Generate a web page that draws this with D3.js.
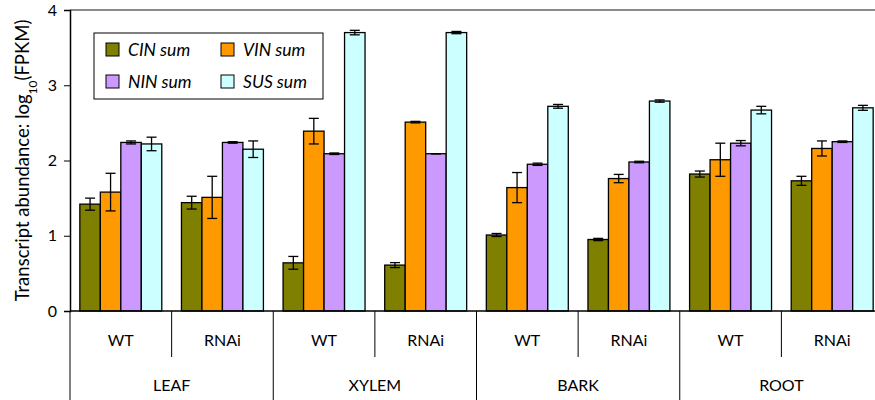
<!DOCTYPE html>
<meta charset="utf-8">
<style>
body { margin: 0; background: #fff; }
text { font-family: Lato, "Open Sans", sans-serif; fill: #000; }
.bar { stroke: #000; stroke-width: 1.3px; }
.err { stroke: #000; stroke-width: 1.3px; }
</style>
<svg width="875" height="400"></svg>
<script src="https://d3js.org/d3.v7.min.js"></script>
<script>
// tissues and genotypes along the x axis
var tissues = ["LEAF", "XYLEM", "BARK", "ROOT"];
var genotypes = ["WT", "RNAi"];
var series = ["CIN sum", "VIN sum", "NIN sum", "SUS sum"];
var colors = ["#808000", "#ff9900", "#cc99ff", "#ccffff"];
var yTicks = [0, 1, 2, 3, 4];

// log10(FPKM), one row per tissue/genotype, columns CIN, VIN, NIN, SUS
var values = [
    [1.42, 1.58, 2.24, 2.22],
    [1.44, 1.51, 2.24, 2.15],
    [0.64, 2.39, 2.09, 3.70],
    [0.61, 2.51, 2.09, 3.70],
    [1.01, 1.64, 1.95, 2.72],
    [0.95, 1.76, 1.98, 2.79],
    [1.82, 2.01, 2.23, 2.67],
    [1.73, 2.16, 2.25, 2.70]
];
var errors = [
    [0.08, 0.25, 0.02, 0.09],
    [0.085, 0.28, 0.01, 0.11],
    [0.085, 0.17, 0.01, 0.03],
    [0.033, 0.01, 0.0, 0.015],
    [0.02, 0.2, 0.015, 0.025],
    [0.015, 0.055, 0.01, 0.015],
    [0.04, 0.22, 0.035, 0.05],
    [0.06, 0.1, 0.01, 0.033]
];

var svg = d3.select("svg");
var plotL = 70, plotR = 883, plotT = 10, plotB = 311;

var groups = [];
tissues.forEach(function(t) {
    genotypes.forEach(function(g) { groups.push(t + "|" + g); });
});

var x0 = d3.scaleBand().domain(groups).range([plotL, plotR]);
var x1 = d3.scaleBand().domain(series).range([0, x0.bandwidth()]).paddingOuter(0.48);
var y = d3.scaleLinear().domain([0, 4]).range([plotB, plotT]);

// top frame
svg.append("line")
    .attr("x1", plotL).attr("x2", plotR)
    .attr("y1", y(4)).attr("y2", y(4))
    .attr("stroke", "#666").attr("stroke-width", 1.5);

// y axis
var yAxis = svg.append("g")
    .attr("transform", "translate(" + plotL + ",0)")
    .call(d3.axisLeft(y).tickValues(yTicks).tickFormat(d3.format("d")).tickSize(6).tickPadding(7));
yAxis.select(".domain").attr("stroke-width", 1.5);
yAxis.selectAll("text").style("font-size", "16px").style("font-family", "Lato, sans-serif");

svg.append("text")
    .attr("transform", "translate(29," + ((plotT + plotB) / 2) + ") rotate(-90)")
    .attr("text-anchor", "middle")
    .style("font-size", "18.5px")
    .call(function(t) {
        t.append("tspan").text("Transcript abundance: log");
        t.append("tspan").attr("baseline-shift", "sub").style("font-size", "12px").text("10");
        t.append("tspan").text("(FPKM)");
    });

// bars
var row = svg.selectAll(".grp")
    .data(values)
    .enter().append("g")
    .attr("class", "grp")
    .attr("transform", function(d, i) { return "translate(" + x0(groups[i]) + ",0)"; });

row.selectAll("rect")
    .data(function(d, i) { return d.map(function(v, j) { return {v: v, e: errors[i][j], s: series[j], c: colors[j]}; }); })
    .enter().append("rect")
    .attr("class", "bar")
    .attr("x", function(d) { return x1(d.s); })
    .attr("width", x1.bandwidth())
    .attr("y", function(d) { return y(d.v); })
    .attr("height", function(d) { return y(0) - y(d.v); })
    .attr("fill", function(d) { return d.c; });

var err = row.selectAll(".eb")
    .data(function(d, i) { return d.map(function(v, j) { return {v: v, e: errors[i][j], s: series[j]}; }); })
    .enter().append("g")
    .attr("class", "eb")
    .attr("transform", function(d) { return "translate(" + (x1(d.s) + x1.bandwidth() / 2) + ",0)"; });
err.append("line").attr("class", "err")
    .attr("y1", function(d) { return y(d.v - d.e); })
    .attr("y2", function(d) { return y(d.v + d.e); });
err.selectAll(".cap")
    .data(function(d) { return [d.v - d.e, d.v + d.e]; })
    .enter().append("line").attr("class", "err")
    .attr("x1", -5).attr("x2", 5)
    .attr("y1", function(d) { return y(d); })
    .attr("y2", function(d) { return y(d); });

// x axis baseline
svg.append("line")
    .attr("x1", plotL).attr("x2", plotR)
    .attr("y1", plotB).attr("y2", plotB)
    .attr("stroke", "#000").attr("stroke-width", 1.5);

// separators and labels
groups.forEach(function(g, i) {
    var gx = x0(g);
    svg.append("line")
        .attr("x1", gx).attr("x2", gx)
        .attr("y1", plotB).attr("y2", i % 2 === 0 ? 400 : 357)
        .attr("stroke", "#000").attr("stroke-width", 1);
    svg.append("text")
        .attr("x", gx + x0.bandwidth() / 2)
        .attr("y", 346)
        .attr("text-anchor", "middle")
        .style("font-size", "16px")
        .text(g.split("|")[1]);
});
tissues.forEach(function(t, i) {
    var gx = x0(t + "|" + genotypes[0]);
    svg.append("text")
        .attr("x", gx + x0.bandwidth())
        .attr("y", 391)
        .attr("text-anchor", "middle")
        .style("font-size", "16px")
        .text(t);
});

// legend
var legend = svg.append("g").attr("transform", "translate(94,33)");
legend.append("rect")
    .attr("width", 229).attr("height", 66)
    .attr("fill", "#fff").attr("stroke", "#000").attr("stroke-width", 1);
series.forEach(function(s, i) {
    var lx = 12 + (i % 2) * 115, ly = 17 + Math.floor(i / 2) * 32;
    legend.append("rect")
        .attr("x", lx).attr("y", ly - 7)
        .attr("width", 13).attr("height", 13)
        .attr("fill", colors[i]).attr("stroke", "#000").attr("stroke-width", 1);
    legend.append("text")
        .attr("x", lx + 22).attr("y", ly + 6)
        .style("font-size", "17.5px").style("font-style", "italic")
        .text(s);
});
</script>
